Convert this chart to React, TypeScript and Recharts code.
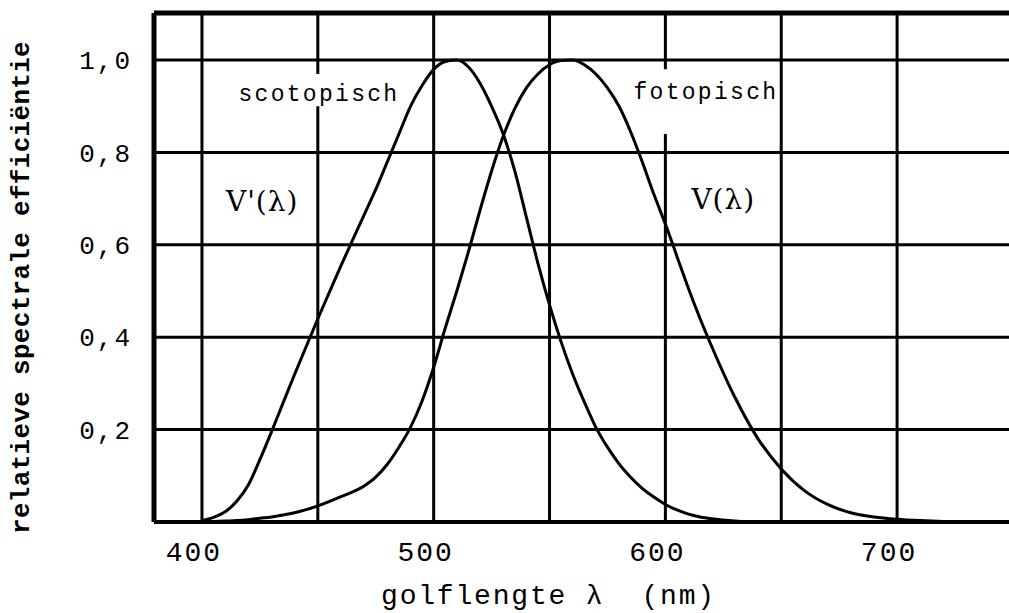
import React from 'react';
import {
  LineChart,
  Line,
  XAxis,
  YAxis,
  CartesianGrid,
  ReferenceLine,
  ReferenceArea,
  ReferenceDot,
} from 'recharts';

// Wavelength samples (nm)
const wavelengths = [
  400, 405, 410, 415, 420, 425, 430, 435, 440, 450, 460, 470, 475, 480, 485, 490,
  495, 500, 505, 510, 515, 520, 525, 530, 535, 540, 545, 550, 555, 560, 565, 570,
  575, 580, 585, 590, 595, 600, 605, 610, 615, 620, 630, 640, 650, 660, 670, 680,
  690, 700, 710, 720, 730,
];

// Scotopic sensitivity V'(λ)
const scotopic = [
  0.003, 0.01, 0.022, 0.045, 0.08, 0.135, 0.195, 0.258, 0.32, 0.44, 0.555, 0.665, 0.72, 0.78, 0.84, 0.9,
  0.945, 0.98, 0.997, 1.0, 0.985, 0.95, 0.9, 0.84, 0.76, 0.66, 0.56, 0.47, 0.39, 0.32, 0.26, 0.205,
  0.162, 0.126, 0.097, 0.073, 0.054, 0.038, 0.026, 0.017, 0.011, 0.007, 0.002, 0, 0, 0, 0, 0,
  0, 0, 0, 0, 0,
];

// Photopic sensitivity V(λ)
const photopic = [
  0.0, 0.001, 0.002, 0.003, 0.005, 0.008, 0.011, 0.015, 0.02, 0.035, 0.055, 0.078, 0.097, 0.125, 0.162, 0.205,
  0.262, 0.335, 0.42, 0.5, 0.585, 0.675, 0.76, 0.835, 0.895, 0.94, 0.97, 0.99, 0.999, 1.0, 0.99, 0.97,
  0.94, 0.9, 0.845, 0.78, 0.71, 0.645, 0.575, 0.505, 0.44, 0.38, 0.27, 0.18, 0.115, 0.068, 0.038, 0.02,
  0.011, 0.006, 0.003, 0.001, 0,
];

const xTicks = [400, 500, 600, 700];
const xGridLines = [400, 450, 500, 550, 600, 650, 700];
const yTicks = [0.2, 0.4, 0.6, 0.8, 1.0];

const xDomain: [number, number] = [379.3, 748.3];
const yMax = 1.102;

const data = wavelengths.map((w, i) => ({
  w,
  scot: scotopic[i],
  phot: photopic[i],
}));

const MONO = '"Liberation Mono", "DejaVu Sans Mono", monospace';
const SERIF = '"DejaVu Serif", "Liberation Serif", serif';

const fmtY = (v: number) => v.toFixed(1).replace('.', ',');

export default function App() {
  return (
    <div style={{ position: 'absolute', left: 0, top: 0, width: 1009, height: 613, background: '#fff' }}>
      <LineChart
        width={1009}
        height={613}
        data={data}
        margin={{ top: 13, right: 0, bottom: 0, left: 0 }}
      >
        <CartesianGrid
          stroke="#000"
          strokeWidth={3}
          horizontalValues={yTicks}
          verticalValues={xGridLines}
        />
        {/* paper behind the in-plot captions */}
        <ReferenceArea x1={416.5} x2={484.5} y1={0.9} y2={0.97} fill="#fff" fillOpacity={1} stroke="none" />
        <ReferenceArea x1={588} x2={648} y1={0.84} y2={0.98} fill="#fff" fillOpacity={1} stroke="none" />
        <ReferenceLine y={yMax} stroke="#000" strokeWidth={5} ifOverflow="visible" />
        <XAxis
          type="number"
          dataKey="w"
          domain={xDomain}
          allowDataOverflow
          ticks={xTicks}
          height={91}
          tickSize={0}
          tickMargin={19}
          tickLine={false}
          axisLine={{ stroke: '#000', strokeWidth: 4 }}
          tick={{ fontFamily: MONO, fontSize: 28, fill: '#000', letterSpacing: 2, dx: -8 }}
          label={{
            value: 'golflengte λ\u00a0\u00a0(nm)',
            position: 'insideBottom',
            offset: 9,
            dx: -33,
            fontFamily: MONO,
            fontSize: 28,
            letterSpacing: 1.8,
            fill: '#000',
          }}
        />
        <YAxis
          type="number"
          domain={[0, yMax]}
          allowDataOverflow
          ticks={yTicks}
          tickFormatter={fmtY}
          width={154}
          tickSize={0}
          tickMargin={22}
          tickLine={false}
          axisLine={{ stroke: '#000', strokeWidth: 5 }}
          tick={{ fontFamily: MONO, fontSize: 26, fill: '#000', letterSpacing: 2 }}
          label={{
            value: 'relatieve spectrale efficiëntie',
            angle: -90,
            position: 'insideLeft',
            offset: 20,
            dy: 20,
            textAnchor: 'middle',
            fontFamily: MONO,
            fontWeight: 'bold',
            fontSize: 26,
            letterSpacing: 0.3,
            fill: '#000',
          }}
        />
        <Line
          type="monotone"
          dataKey="scot"
          stroke="#000"
          strokeWidth={3}
          dot={false}
          activeDot={false}
          isAnimationActive={false}
        />
        <Line
          type="monotone"
          dataKey="phot"
          stroke="#000"
          strokeWidth={3}
          dot={false}
          activeDot={false}
          isAnimationActive={false}
        />
        <ReferenceDot
          x={450.5}
          y={0.93}
          r={0}
          fill="none"
          stroke="none"
          label={{ value: 'scotopisch', position: 'center', fontFamily: MONO, fontSize: 23, letterSpacing: 2.3, fill: '#000' }}
        />
        <ReferenceDot
          x={617.5}
          y={0.933}
          r={0}
          fill="none"
          stroke="none"
          label={{ value: 'fotopisch', position: 'center', fontFamily: MONO, fontSize: 23, letterSpacing: 2.3, fill: '#000' }}
        />
        <ReferenceDot
          x={426}
          y={0.695}
          r={0}
          fill="none"
          stroke="none"
          label={{ value: "V'(λ)", position: 'center', fontFamily: SERIF, fontSize: 28, letterSpacing: 1, fill: '#000' }}
        />
        <ReferenceDot
          x={625}
          y={0.7}
          r={0}
          fill="none"
          stroke="none"
          label={{ value: 'V(λ)', position: 'center', fontFamily: SERIF, fontSize: 28, letterSpacing: 1, fill: '#000' }}
        />
      </LineChart>
    </div>
  );
}
